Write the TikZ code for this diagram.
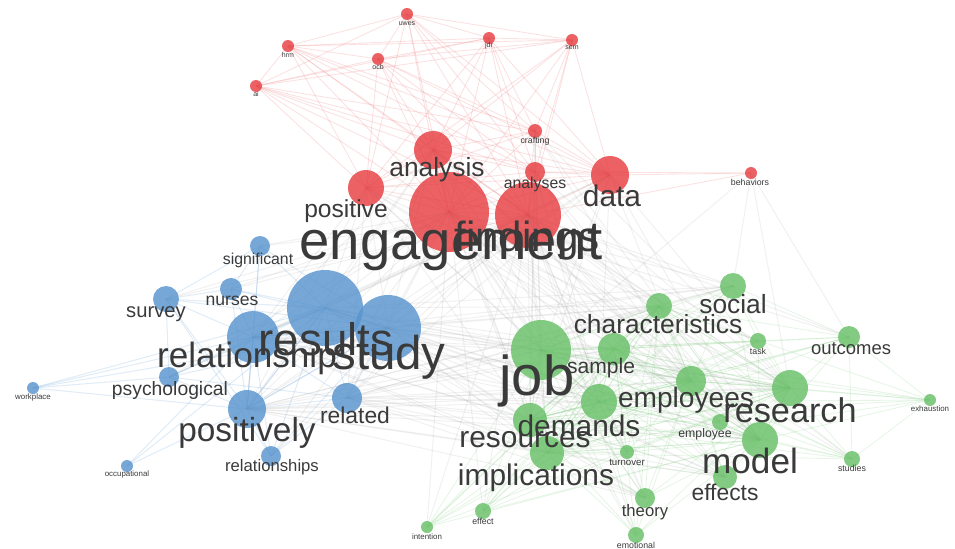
\documentclass[tikz,border=0pt]{standalone}
\usepackage{fontspec}
\setmainfont{Liberation Sans}
\usepackage{tikz}
\usetikzlibrary{backgrounds}
\usepackage{xcolor}

\definecolor{nodered}{RGB}{230,62,66}
\definecolor{nodeblue}{RGB}{88,148,206}
\definecolor{nodegreen}{RGB}{104,192,104}
\definecolor{labelgray}{RGB}{58,58,58}
\newcommand{\lblsize}[1]{\fontsize{#1}{#1}\selectfont}

\tikzset{
  bub/.style={circle, inner sep=0pt, minimum size={#1*0.04cm}, fill opacity=0.82},
  rn/.style={fill=nodered},
  bn/.style={fill=nodeblue},
  gn/.style={fill=nodegreen},
  lbl/.style={text=labelgray, inner sep=0pt},
  redlink/.style={draw=nodered!70, opacity=0.22, line width=0.5pt},
  bluelink/.style={draw=nodeblue!80, opacity=0.22, line width=0.6pt},
  greenlink/.style={draw=nodegreen!80, opacity=0.2, line width=0.5pt},
  graylink/.style={draw=gray!70, opacity=0.16, line width=0.6pt}
}

\begin{document}
\begin{tikzpicture}[x=0.02cm, y=-0.02cm] % one unit = one pixel of the page

\useasboundingbox (0,0) rectangle (955,548);

% red cluster
\node[bub=6, rn] (uwes) at (407,14) {};
\node[bub=6, rn] (hrm) at (288,46) {};
\node[bub=6, rn] (ocb) at (378,59) {};
\node[bub=6, rn] (jdr) at (489,38) {};
\node[bub=6, rn] (sem) at (572,40) {};
\node[bub=6, rn] (ai) at (256,86) {};
\node[bub=7, rn] (crafting) at (535,131) {};
\node[bub=6, rn] (behaviors) at (751,173) {};
\node[bub=19, rn] (analysis) at (433,150) {};
\node[bub=18, rn] (positive) at (366,188) {};
\node[bub=10, rn] (analyses) at (535,172) {};
\node[bub=19, rn] (data) at (610,175) {};
\node[bub=40, rn] (engagement) at (449,212) {};
\node[bub=33, rn] (findings) at (528,215) {};

% blue cluster
\node[bub=10, bn] (significant) at (260,246) {};
\node[bub=13, bn] (survey) at (166,299) {};
\node[bub=11, bn] (nurses) at (231,289) {};
\node[bub=38, bn] (results) at (325,308) {};
\node[bub=33, bn] (study) at (388,328) {};
\node[bub=26, bn] (relationship) at (253,337) {};
\node[bub=10, bn] (psychological) at (169,377) {};
\node[bub=15, bn] (related) at (347,398) {};
\node[bub=19, bn] (positively) at (247,409) {};
\node[bub=10, bn] (relationships) at (271,456) {};
\node[bub=6, bn] (workplace) at (33,388) {};
\node[bub=6, bn] (occupational) at (127,466) {};

% green cluster
\node[bub=30, gn] (job) at (541,350) {};
\node[bub=13, gn] (characteristics) at (659,306) {};
\node[bub=16, gn] (sample) at (614,349) {};
\node[bub=13, gn] (social) at (733,286) {};
\node[bub=8, gn] (task) at (758,341) {};
\node[bub=11, gn] (outcomes) at (849,337) {};
\node[bub=15, gn] (employees) at (691,381) {};
\node[bub=18, gn] (research) at (790,388) {};
\node[bub=18, gn] (demands) at (599,402) {};
\node[bub=17, gn] (resources) at (530,420) {};
\node[bub=18, gn] (model) at (760,440) {};
\node[bub=17, gn] (implications) at (547,453) {};
\node[bub=8, gn] (employee) at (720,422) {};
\node[bub=7, gn] (turnover) at (627,452) {};
\node[bub=12, gn] (effects) at (725,477) {};
\node[bub=10, gn] (theory) at (645,498) {};
\node[bub=8, gn] (emotional) at (636,535) {};
\node[bub=8, gn] (effect) at (483,511) {};
\node[bub=6, gn] (intention) at (427,527) {};
\node[bub=8, gn] (studies) at (852,459) {};
\node[bub=6, gn] (exhaustion) at (930,400) {};

% links
\begin{scope}[on background layer]
\foreach \a [count=\i] in {uwes,hrm,ocb,jdr,sem,ai,crafting,analysis,positive,analyses,data,engagement,findings}
  \foreach \b [count=\j] in {uwes,hrm,ocb,jdr,sem,ai,crafting,analysis,positive,analyses,data,engagement,findings}
    {\ifnum\i<\j \draw[redlink] (\a.center) -- (\b.center); \fi}
\foreach \b in {data,findings,analyses}
  \draw[redlink] (behaviors.center) -- (\b.center);
\foreach \b in {job,research,outcomes,social}
  \draw[graylink] (behaviors.center) -- (\b.center);

\foreach \a in {results,study,relationship,positively}
  \foreach \b in {significant,survey,nurses,results,study,relationship,psychological,related,positively,relationships,workplace}
    \draw[bluelink] (\a.center) -- (\b.center);
\foreach \a/\b in {survey/nurses, survey/psychological, survey/significant, nurses/significant,
  psychological/related, related/relationships, occupational/positively, occupational/relationship,
  occupational/results, workplace/psychological, survey/relationships}
  \draw[bluelink] (\a.center) -- (\b.center);

\foreach \a in {job,demands,resources,employees,research,model,implications,sample,characteristics}
  \foreach \b in {job,characteristics,sample,social,task,outcomes,employees,research,demands,resources,model,implications,employee,turnover,effects,theory,emotional,effect,intention,studies,exhaustion}
    \draw[greenlink] (\a.center) -- (\b.center);
\foreach \a/\b in {outcomes/studies, outcomes/exhaustion, social/outcomes, social/task, studies/exhaustion}
  \draw[greenlink] (\a.center) -- (\b.center);

\foreach \a in {engagement,findings}
  \foreach \b in {significant,survey,nurses,results,study,relationship,psychological,related,positively,relationships,job,characteristics,sample,social,task,outcomes,employees,research,demands,resources,model,implications,employee,turnover,effects,theory,emotional,effect,intention,studies}
    \draw[graylink] (\a.center) -- (\b.center);
\foreach \a in {results,study,relationship,positively,related}
  \foreach \b in {job,demands,resources,employees,research,model,implications,sample,characteristics,social,effects,theory,data,analysis,positive}
    \draw[graylink] (\a.center) -- (\b.center);
\foreach \a in {job,research,demands,resources,employees,model}
  \foreach \b in {analysis,data,positive,analyses,crafting}
    \draw[graylink] (\a.center) -- (\b.center);
\end{scope}

% labels
\node[lbl, font=\lblsize{4}] (uwes-t) at (407,24) {uwes};
\node[lbl, font=\lblsize{4}] (hrm-t) at (288,55) {hrm};
\node[lbl, font=\lblsize{4}] (ocb-t) at (378,67) {ocb};
\node[lbl, font=\lblsize{4}] (jdr-t) at (489,46) {jdr};
\node[lbl, font=\lblsize{4}] (sem-t) at (572,48) {sem};
\node[lbl, font=\lblsize{4}] (ai-t) at (256,94) {ai};
\node[lbl, font=\lblsize{5}] (crafting-t) at (535,141) {crafting};
\node[lbl, font=\lblsize{5}] (behaviors-t) at (750,182) {behaviors};
\node[lbl, font=\lblsize{15}] (analysis-t) at (437,170) {analysis};
\node[lbl, font=\lblsize{14}] (positive-t) at (346,211) {positive};
\node[lbl, font=\lblsize{9}] (analyses-t) at (535,184) {analyses};
\node[lbl, font=\lblsize{17}] (data-t) at (612,196) {data};
\node[lbl, font=\lblsize{24}] (findings-t) at (527,241) {findings};
\node[lbl, font=\lblsize{31}] (engagement-t) at (451,248) {engagement};

\node[lbl, font=\lblsize{9}] (significant-t) at (258,260) {significant};
\node[lbl, font=\lblsize{11.5}] (survey-t) at (156,314) {survey};
\node[lbl, font=\lblsize{10}] (nurses-t) at (232,301) {nurses};
\node[lbl, font=\lblsize{26}] (results-t) at (326,339) {results};
\node[lbl, font=\lblsize{27}] (study-t) at (389,357) {study};
\node[lbl, font=\lblsize{20}] (relationship-t) at (247,358) {relationship};
\node[lbl, font=\lblsize{11}] (psychological-t) at (170,390) {psychological};
\node[lbl, font=\lblsize{13}] (related-t) at (355,415) {related};
\node[lbl, font=\lblsize{19}] (positively-t) at (247,433) {positively};
\node[lbl, font=\lblsize{9.5}] (relationships-t) at (272,467) {relationships};
\node[lbl, font=\lblsize{4.5}] (workplace-t) at (33,397) {workplace};
\node[lbl, font=\lblsize{4.5}] (occupational-t) at (127,474) {occupational};

\node[lbl, font=\lblsize{32}] (job-t) at (537,381) {job};
\node[lbl, font=\lblsize{15}] (characteristics-t) at (658,324) {characteristics};
\node[lbl, font=\lblsize{12}] (sample-t) at (601,368) {sample};
\node[lbl, font=\lblsize{15}] (social-t) at (733,304) {social};
\node[lbl, font=\lblsize{5}] (task-t) at (758,351) {task};
\node[lbl, font=\lblsize{10.5}] (outcomes-t) at (851,349) {outcomes};
\node[lbl, font=\lblsize{16}] (employees-t) at (686,400) {employees};
\node[lbl, font=\lblsize{19.5}] (research-t) at (790,410) {research};
\node[lbl, font=\lblsize{17}] (demands-t) at (579,426) {demands};
\node[lbl, font=\lblsize{17}] (resources-t) at (525,440) {resources};
\node[lbl, font=\lblsize{20}] (model-t) at (750,461) {model};
\node[lbl, font=\lblsize{17}] (implications-t) at (536,478) {implications};
\node[lbl, font=\lblsize{7}] (employee-t) at (705,434) {employee};
\node[lbl, font=\lblsize{5.5}] (turnover-t) at (627,462) {turnover};
\node[lbl, font=\lblsize{13}] (effects-t) at (725,492) {effects};
\node[lbl, font=\lblsize{9.5}] (theory-t) at (645,512) {theory};
\node[lbl, font=\lblsize{5}] (emotional-t) at (636,545) {emotional};
\node[lbl, font=\lblsize{5}] (effect-t) at (483,521) {effect};
\node[lbl, font=\lblsize{4.5}] (intention-t) at (427,537) {intention};
\node[lbl, font=\lblsize{5}] (studies-t) at (852,468) {studies};
\node[lbl, font=\lblsize{4.5}] (exhaustion-t) at (930,409) {exhaustion};

\end{tikzpicture}
\end{document}
